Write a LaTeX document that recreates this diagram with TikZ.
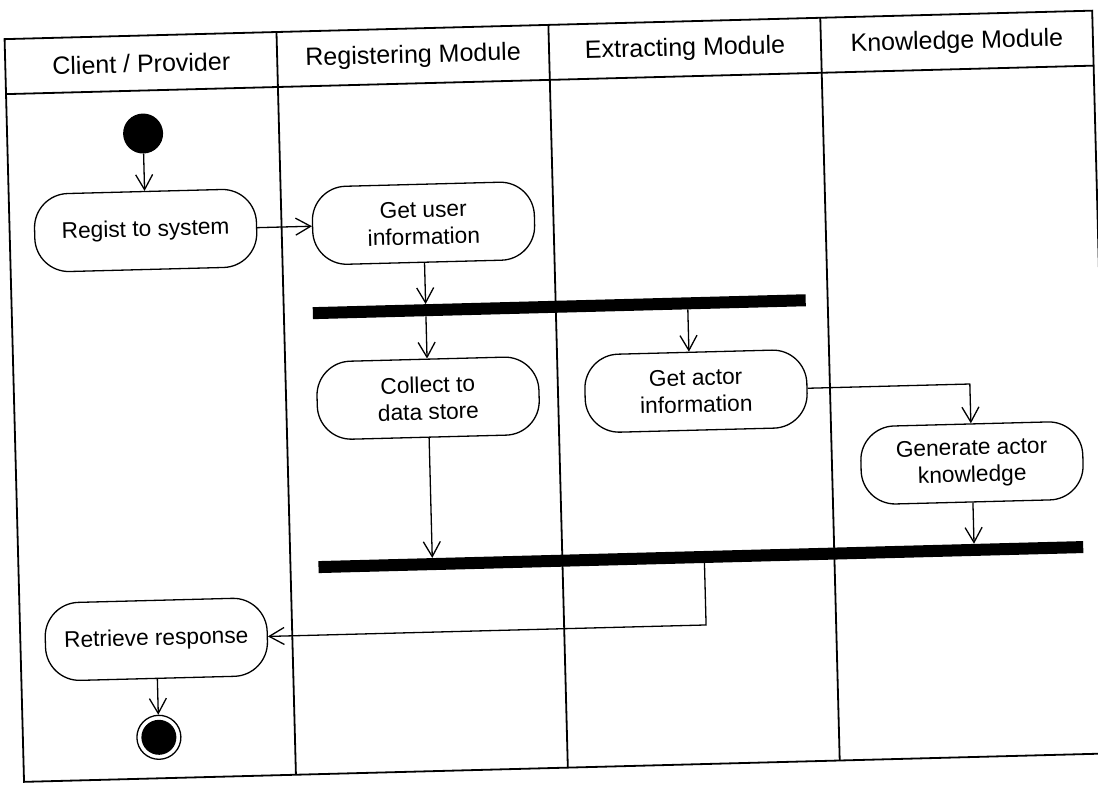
\documentclass[tikz,border=0pt]{standalone}
\usepackage{fontspec}
\setmainfont{Liberation Sans}
\usetikzlibrary{arrows.meta}
\begin{document}
\begin{tikzpicture}[x=1pt,y=1pt,
  laneline/.style={line width=1.8pt},
  header/.style={font=\fontsize{25}{30}\selectfont, inner sep=0pt},
  action/.style={draw, line width=1.3pt, rounded corners=34pt,
    minimum width=222pt, minimum height=78pt, align=center, inner sep=0pt,
    font=\fontsize{22.7}{27}\selectfont},
  syncbar/.style={fill=black, draw=none, minimum height=12pt, inner sep=0pt},
  flow/.style={line width=1.3pt,
    -{Straight Barb[length=15pt,width=17pt,line width=1.3pt]}},
]
\useasboundingbox (0,0) rectangle (1098,785);
\begin{scope}[rotate around={1.5:(549,392.5)}, transform shape]
  % swimlane frame
  \draw[laneline] (14,17) rectangle (1102,760);
  \draw[laneline] (14,705) -- (1102,705);
  \foreach \lx in {286,558,830}
    \draw[laneline] (\lx,17) -- (\lx,760);

  % lane titles
  \node[header] (h1) at (150,732) {Client / Provider};
  \node[header] (h2) at (422,732) {Registering Module};
  \node[header] (h3) at (694,732) {Extracting Module};
  \node[header] (h4) at (966,732) {Knowledge Module};

  % initial and final states
  \node[circle, fill=black, minimum size=40pt, inner sep=0pt] (start) at (150,662) {};
  \node[circle, draw, line width=1.3pt, minimum size=44pt, inner sep=0pt] (end) at (150,58) {};
  \node[circle, fill=black, minimum size=35pt, inner sep=0pt] (enddot) at (end.center) {};

  % actions
  \node[action] (regist)    at (150,565) {Regist to system};
  \node[action] (getuser)   at (428,565) {Get user\\information};
  \node[action] (collect)   at (428,390) {Collect to\\data store};
  \node[action] (getactor)  at (696,390) {Get actor\\information};
  \node[action] (generate)  at (970,311) {Generate actor\\knowledge};
  \node[action] (retrieve)  at (150,156) {Retrieve response};

  % fork and join bars
  \node[syncbar, minimum width=493pt] (fork) at (561.5,478) {};
  \node[syncbar, minimum width=765pt] (join) at (696.5,224) {};
  \coordinate (forkout) at (690,472);
  \coordinate (joinout) at (700,218);

  % control flow
  \draw[flow] (start) -- (regist);
  \draw[flow] (regist) -- (getuser);
  \draw[flow] (getuser.south) -- (getuser.south |- fork.north);
  \draw[flow] (fork.south -| collect.north) -- (collect.north);
  \draw[flow] (forkout) -- (forkout |- getactor.north);
  \draw[flow] (getactor.east) -| (generate.north);
  \draw[flow] (collect.south) -- (collect.south |- join.north);
  \draw[flow] (generate.south) -- (generate.south |- join.north);
  \draw[flow] (joinout) |- (retrieve.east);
  \draw[flow] (retrieve) -- (end);
\end{scope}
\end{tikzpicture}
\end{document}
